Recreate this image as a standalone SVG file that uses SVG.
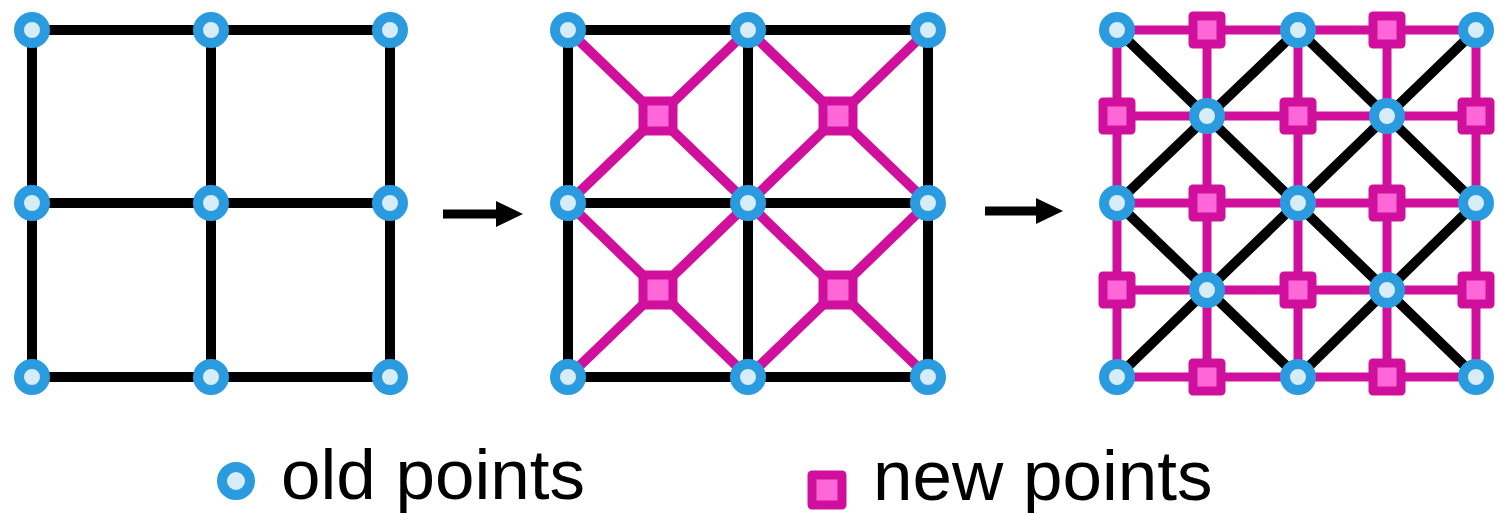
<svg xmlns="http://www.w3.org/2000/svg" width="1498" height="513" viewBox="0 0 1498 513">
<style>
.blk{stroke:#000;stroke-width:10;fill:none;stroke-linecap:square}
.mag{stroke:#d0109c;stroke-width:10;fill:none}
.mag3{stroke:#d0109c;stroke-width:9;fill:none}
.old circle{fill:#d6ecf6;stroke:#2b9be0;stroke-width:10}
.new rect{fill:#ff66d8;stroke:#d0109c;stroke-width:9;stroke-linejoin:round}
.arr{stroke:#000;stroke-width:9;fill:none}
.lbl{font-family:"Liberation Sans",Arial,sans-serif;font-size:71px;fill:#000}
</style>
<defs>
<marker id="ah" markerUnits="userSpaceOnUse" markerWidth="30" markerHeight="30" refX="0" refY="15" orient="auto" viewBox="0 0 30 30">
<polygon points="0,2 27,15 0,28" fill="#000"/>
</marker>
</defs>
<g id="connectors">
<path class="blk" d="M32,30H390M32,203H390M32,377H390M32,30V377M211,30V377M390,30V377"/>
<path class="blk" d="M568,30H928M568,203H928M568,377H928M568,30V377M748,30V377M928,30V377"/>
<path class="mag" d="M568,30L928,377M748,30L568,203M928,30L568,377M748,377L928,203M748,30L928,203M568,203L748,377"/>
<path class="mag3" d="M1117,30H1476M1117,116H1476M1117,203H1476M1117,290H1476M1117,377H1476M1117,30V377M1207,30V377M1298,30V377M1387,30V377M1476,30V377"/>
<path class="blk" d="M1117,30L1476,377M1298,30L1476,203M1117,203L1298,377M1298,30L1117,203M1476,30L1117,377M1476,203L1298,377"/>
<line class="arr" x1="443" y1="214" x2="496" y2="214" marker-end="url(#ah)"/>
<line class="arr" x1="985" y1="211" x2="1036" y2="211" marker-end="url(#ah)"/>
</g>
<g id="g1-a" class="old"><circle cx="32" cy="30" r="13"/></g>
<g id="g1-b" class="old"><circle cx="211" cy="30" r="13"/></g>
<g id="g1-c" class="old"><circle cx="390" cy="30" r="13"/></g>
<g id="g1-d" class="old"><circle cx="32" cy="203" r="13"/></g>
<g id="g1-e" class="old"><circle cx="211" cy="203" r="13"/></g>
<g id="g1-f" class="old"><circle cx="390" cy="203" r="13"/></g>
<g id="g1-g" class="old"><circle cx="32" cy="377" r="13"/></g>
<g id="g1-h" class="old"><circle cx="211" cy="377" r="13"/></g>
<g id="g1-i" class="old"><circle cx="390" cy="377" r="13"/></g>
<g id="g2-a" class="old"><circle cx="568" cy="30" r="13"/></g>
<g id="g2-b" class="old"><circle cx="748" cy="30" r="13"/></g>
<g id="g2-c" class="old"><circle cx="928" cy="30" r="13"/></g>
<g id="g2-d" class="old"><circle cx="568" cy="203" r="13"/></g>
<g id="g2-e" class="old"><circle cx="748" cy="203" r="13"/></g>
<g id="g2-f" class="old"><circle cx="928" cy="203" r="13"/></g>
<g id="g2-g" class="old"><circle cx="568" cy="377" r="13"/></g>
<g id="g2-h" class="old"><circle cx="748" cy="377" r="13"/></g>
<g id="g2-i" class="old"><circle cx="928" cy="377" r="13"/></g>
<g id="g2-n1" class="new"><rect x="643" y="101" width="30" height="30"/></g>
<g id="g2-n2" class="new"><rect x="823" y="101" width="30" height="30"/></g>
<g id="g2-n3" class="new"><rect x="643" y="275" width="30" height="30"/></g>
<g id="g2-n4" class="new"><rect x="823" y="275" width="30" height="30"/></g>
<g id="g3-n1" class="new"><rect x="1193" y="16" width="28" height="28"/></g>
<g id="g3-n2" class="new"><rect x="1373" y="16" width="28" height="28"/></g>
<g id="g3-n3" class="new"><rect x="1103" y="102" width="28" height="28"/></g>
<g id="g3-n4" class="new"><rect x="1284" y="102" width="28" height="28"/></g>
<g id="g3-n5" class="new"><rect x="1462" y="102" width="28" height="28"/></g>
<g id="g3-n6" class="new"><rect x="1193" y="189" width="28" height="28"/></g>
<g id="g3-n7" class="new"><rect x="1373" y="189" width="28" height="28"/></g>
<g id="g3-n8" class="new"><rect x="1103" y="276" width="28" height="28"/></g>
<g id="g3-n9" class="new"><rect x="1284" y="276" width="28" height="28"/></g>
<g id="g3-n10" class="new"><rect x="1462" y="276" width="28" height="28"/></g>
<g id="g3-n11" class="new"><rect x="1193" y="363" width="28" height="28"/></g>
<g id="g3-n12" class="new"><rect x="1373" y="363" width="28" height="28"/></g>
<g id="g3-a" class="old"><circle cx="1117" cy="30" r="13"/></g>
<g id="g3-b" class="old"><circle cx="1298" cy="30" r="13"/></g>
<g id="g3-c" class="old"><circle cx="1476" cy="30" r="13"/></g>
<g id="g3-d" class="old"><circle cx="1207" cy="116" r="13"/></g>
<g id="g3-e" class="old"><circle cx="1387" cy="116" r="13"/></g>
<g id="g3-f" class="old"><circle cx="1117" cy="203" r="13"/></g>
<g id="g3-g" class="old"><circle cx="1298" cy="203" r="13"/></g>
<g id="g3-h" class="old"><circle cx="1476" cy="203" r="13"/></g>
<g id="g3-i" class="old"><circle cx="1207" cy="290" r="13"/></g>
<g id="g3-j" class="old"><circle cx="1387" cy="290" r="13"/></g>
<g id="g3-k" class="old"><circle cx="1117" cy="377" r="13"/></g>
<g id="g3-l" class="old"><circle cx="1298" cy="377" r="13"/></g>
<g id="g3-m" class="old"><circle cx="1476" cy="377" r="13"/></g>
<g id="legend-old">
<g class="old"><circle cx="236" cy="481" r="14"/></g>
<text class="lbl" x="281" y="499">old points</text>
</g>
<g id="legend-new">
<g class="new"><rect x="812" y="475" width="30" height="30"/></g>
<text class="lbl" x="873" y="500">new points</text>
</g>
</svg>
